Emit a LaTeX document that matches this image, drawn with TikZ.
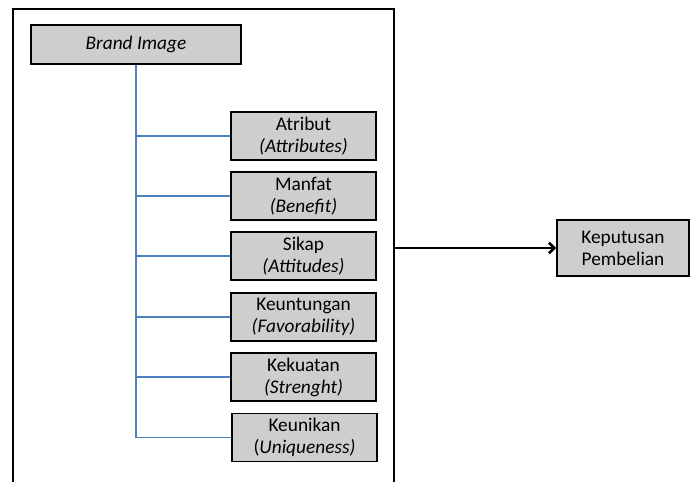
\documentclass[tikz,border=0pt]{standalone}
\usepackage{fontspec}
\setmainfont{Carlito}
\usetikzlibrary{arrows.meta}
\definecolor{kotakabu}{RGB}{206,206,206}
\definecolor{garisbiru}{RGB}{79,129,189}
\begin{document}
\begin{tikzpicture}[x=0.75pt,y=-0.75pt,
	kotak/.style={draw, fill=kotakabu, line width=1.3pt, inner sep=0pt, align=center,
		minimum width=108.75pt, minimum height=36pt, font=\fontsize{14.5}{16.5}\selectfont},
	cabang/.style={draw=garisbiru, line width=0.8pt}]
		\useasboundingbox (0,0) rectangle (690,482);

		% Bingkai
		\draw[line width=2.2pt] (13,482) -- (13,9) -- (394,9) -- (394,482);

		% Brand Image
		\node[kotak, minimum width=157.5pt, minimum height=29.25pt] (brand) at (136,44.5) {\textit{Brand Image}};

		% Dimensi brand image
		\node[kotak] (atr) at (303.5,136) {Atribut\\\textit{(Attributes)}};
		\node[kotak] (man) at (303.5,196) {Manfat\\\textit{(Benefit)}};
		\node[kotak] (sik) at (303.5,256) {Sikap\\\textit{(Attitudes)}};
		\node[kotak] (keu) at (303.5,317) {Keuntungan\\\textit{(Favorability)}};
		\node[kotak] (kek) at (303.5,377) {Kekuatan\\\textit{(Strenght)}};
		\node[kotak] (uni) at (304.5,437.5) {Keunikan\\(\textit{Uniqueness)}};

		% Keputusan pembelian
		\node[kotak, minimum width=99pt, minimum height=42pt] (kep) at (623,248) {Keputusan\\Pembelian};

		% Garis cabang
		\draw[cabang] (brand.south) |- (uni.west);
		\draw[cabang] (brand.south |- atr.west) -- (atr.west);
		\draw[cabang] (brand.south |- man.west) -- (man.west);
		\draw[cabang] (brand.south |- sik.west) -- (sik.west);
		\draw[cabang] (brand.south |- keu.west) -- (keu.west);
		\draw[cabang] (brand.south |- kek.west) -- (kek.west);

		% Panah
		\coordinate (bingkai) at (394,248);
		\draw[-{Straight Barb[length=4pt,width=8pt]}, line width=2pt] (bingkai) -- (kep.west);
	\end{tikzpicture}
\end{document}
